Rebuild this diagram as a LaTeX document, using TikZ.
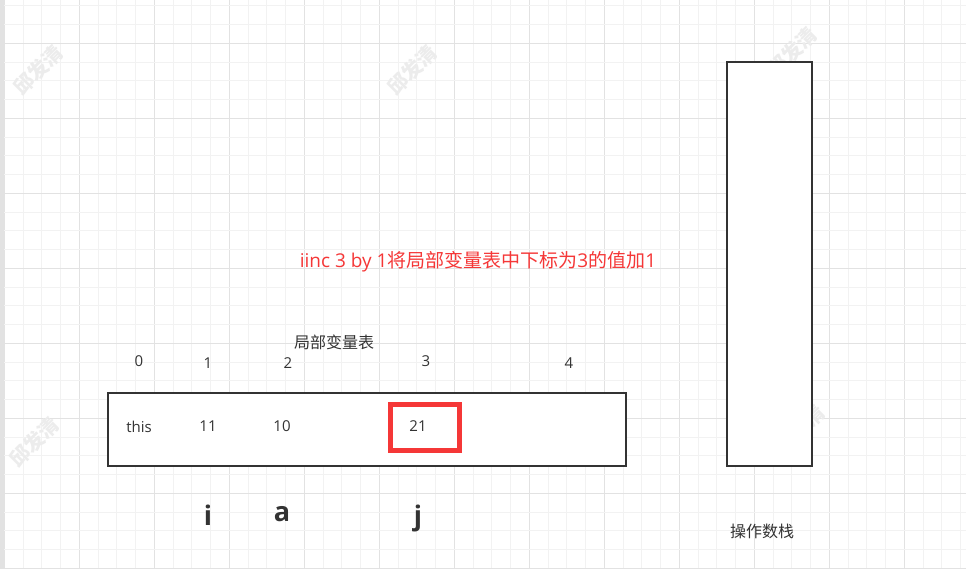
\documentclass[tikz,border=0pt]{standalone}
\usepackage{fontspec}
\setmainfont{Open Sans}
\newfontfamily\cjk{Noto Sans CJK SC}
\definecolor{minorgrid}{RGB}{242,242,242}
\definecolor{majorgrid}{RGB}{226,226,226}
\definecolor{boxline}{RGB}{51,51,51}
\definecolor{hired}{RGB}{245,55,55}
\definecolor{txt}{RGB}{51,51,51}
\definecolor{wmark}{RGB}{236,236,236}
\tikzset{
  minorline/.style={draw=minorgrid, line width=1pt},
  majorline/.style={draw=majorgrid, line width=1pt},
  cellbox/.style={draw=boxline, line width=2.6pt, fill=white, inner sep=0pt},
  redbox/.style={draw=hired, line width=5pt, inner sep=0pt},
  lbl/.style={text=txt, inner sep=0pt, font=\fontsize{15}{18}\selectfont},
  cjklbl/.style={text=txt, inner sep=0pt, font=\cjk\fontsize{16}{18}\selectfont},
  big/.style={text=txt, inner sep=0pt, font=\fontsize{27}{30}\selectfont\bfseries},
  wm/.style={text=wmark, inner sep=0pt, rotate=45, font=\cjk\fontsize{20}{22}\selectfont\bfseries}
}
\begin{document}
\begin{tikzpicture}[x=1pt, y=-1pt]
\useasboundingbox (0,0) rectangle (966,569);
\fill[white] (0,0) rectangle (966,569);
% grid
\foreach \k in {0,...,51} {
  \pgfmathtruncatemacro{\m}{mod(\k,4)}
  \ifnum\m=0
    \draw[majorline] ({4.3+18.75*\k},0) -- ({4.3+18.75*\k},569);
  \else
    \draw[minorline] ({4.3+18.75*\k},0) -- ({4.3+18.75*\k},569);
  \fi
}
\foreach \k in {0,...,30} {
  \pgfmathtruncatemacro{\m}{mod(\k,4)}
  \ifnum\m=2
    \draw[majorline] (0,{5.8+18.75*\k}) -- (966,{5.8+18.75*\k});
  \else
    \draw[minorline] (0,{5.8+18.75*\k}) -- (966,{5.8+18.75*\k});
  \fi
}
\fill[majorgrid] (0,0) rectangle (4,569);
% watermarks
\node[wm] (w1) at (38,70) {邱发清};
\node[wm] (w2) at (412,70) {邱发清};
\node[wm] (w3) at (792,52) {邱发清};
\node[wm] (w4) at (34,442) {邱发清};
\node[wm] (w5) at (410,440) {邱发清};
\node[wm] (w6) at (800,430) {邱发清};
% shapes
\node[cellbox, minimum width=518pt, minimum height=73pt] (lvt) at (367,429.5) {};
\node[cellbox, minimum width=85pt, minimum height=404pt] (stack) at (769.5,264) {};
\node[redbox, minimum width=69pt, minimum height=46pt] (hl) at (424.5,427) {};
% red caption
\node[inner sep=0pt, text=hired, font=\fontsize{19}{22}\selectfont] (cap) at (478,262) {iinc 3 by 1{\cjk 将局部变量表中下标为}3{\cjk 的值加}1};
% table title and indices
\node[cjklbl] (title) at (334,342) {局部变量表};
\node[lbl] (i0) at (139,361) {0};
\node[lbl] (i1) at (208,363) {1};
\node[lbl] (i2) at (288,363) {2};
\node[lbl] (i3) at (426,361) {3};
\node[lbl] (i4) at (569,363) {4};
% cell values
\node[lbl, anchor=base] (v0) at (139,432) {this};
\node[lbl, anchor=base] (v1) at (208,431) {11};
\node[lbl, anchor=base] (v2) at (282,431) {10};
\node[lbl, anchor=base] (v3) at (418,431) {21};
% variable names
\node[big, anchor=base] (ni) at (208,525) {i};
\node[big, anchor=base] (na) at (282,521) {a};
\node[big, anchor=base] (nj) at (418,525) {j};
% stack label
\node[cjklbl] (slbl) at (762,531) {操作数栈};
\end{tikzpicture}
\end{document}
